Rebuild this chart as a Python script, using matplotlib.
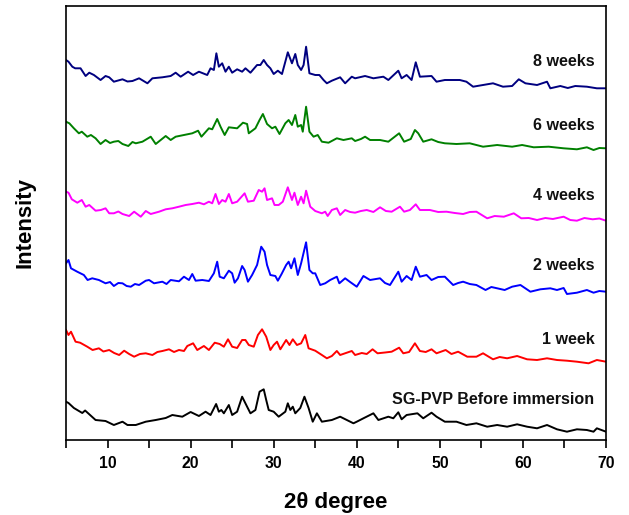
import numpy as np
import matplotlib
matplotlib.use("Agg")
import matplotlib.pyplot as plt
from matplotlib.ticker import MultipleLocator, FuncFormatter

plt.rcParams['font.family'] = ['Liberation Sans', 'DejaVu Sans']

# Series: (2theta, intensity incl. stacking offset, arbitrary units)
before = [(5.0, 38.3), (5.3, 37), (5.95, 32), (6.96, 27), (7.3, 29.5), (8.56, 20), (9.76, 19), (10.76, 15),
          (11.8, 18.3), (12.4, 15), (13.4, 15), (14.6, 18.3), (15.8, 20), (17.0, 22), (17.8, 25), (19.0, 23.3),
          (20.0, 28), (21.0, 24), (21.8, 28.3), (22.4, 25), (23.07, 36), (23.4, 28.3), (23.7, 30), (24.0, 26.7),
          (24.6, 35), (25.0, 25), (25.6, 28.3), (26.2, 43.3), (26.8, 33.3), (27.2, 26.7), (27.8, 30), (28.3, 48.3),
          (28.8, 50.7), (29.1, 40), (29.4, 30), (30.0, 28.3), (30.6, 23.3), (31.4, 28.3), (31.7, 36.7), (32.0, 30),
          (32.3, 33.3), (32.6, 26.7), (33.2, 32), (33.7, 43.3), (34.2, 32), (34.7, 18.3), (35.2, 26.7), (35.8, 18.3),
          (37.0, 20), (38.0, 23.3), (38.8, 20), (39.6, 16.7), (40.0, 18.3), (40.8, 21.7), (42.0, 26.7), (42.6, 20),
          (43.8, 23.3), (44.4, 21.7), (45.0, 27.7), (45.4, 20.7), (46.0, 25), (47.3, 26.7), (48.0, 21.7), (49.0, 27.3),
          (49.6, 23.3), (50.6, 18.3), (52.0, 18.3), (53.2, 15), (54.4, 16.7), (55.7, 13.3), (56.9, 15), (58.1, 13.3),
          (59.3, 15.7), (60.5, 13.3), (61.7, 11.7), (62.9, 15), (64.1, 10.7), (65.3, 8.3), (66.5, 10.7), (67.7, 10),
          (68.5, 8.3), (68.9, 11.7), (70.0, 8.3)]

week1 = [(5.0, 110), (5.3, 105), (5.6, 108.3), (6.15, 98.3), (6.7, 97.3), (7.56, 93.3), (8.2, 90), (8.96, 91.7),
         (9.5, 88.5), (10.2, 90), (10.8, 87), (11.4, 85), (12.0, 89.3), (12.6, 86), (13.2, 83.3), (13.9, 86),
         (14.6, 86.7), (15.4, 85), (16.0, 88), (16.6, 89), (17.4, 90.7), (18.0, 88), (18.6, 90), (19.2, 89),
         (19.6, 94), (20.3, 96.7), (20.8, 90), (21.6, 94), (22.2, 90), (22.9, 97.3), (23.5, 96), (24.0, 93.3),
         (24.5, 100.7), (25.0, 93.3), (25.6, 92), (26.2, 100), (26.6, 100), (27.0, 95), (27.6, 93.3), (28.1, 105),
         (28.6, 110.7), (29.1, 103.3), (29.6, 90), (30.0, 95), (30.4, 98.3), (30.8, 90.7), (31.5, 100), (31.9, 95),
         (32.3, 100.7), (32.8, 95), (33.3, 96.7), (33.8, 105), (34.2, 91.7), (35.0, 89.3), (35.8, 85), (36.4, 81.7),
         (37.0, 84), (37.6, 89), (38.0, 85), (38.8, 87.3), (39.4, 89), (39.8, 85), (40.6, 87), (41.2, 86),
         (41.9, 90.7), (42.5, 86.7), (43.4, 87.5), (44.2, 88.3), (45.1, 92.3), (45.6, 86.7), (46.3, 88), (47.0, 96.7),
         (47.6, 89), (48.3, 88), (49.0, 90.7), (49.6, 86.7), (50.7, 90), (51.4, 86), (52.2, 88.3), (53.3, 83.3),
         (54.4, 83.3), (55.2, 86.7), (56.4, 80.7), (57.2, 83), (58.1, 81.7), (59.3, 84), (60.5, 80.7), (61.7, 80),
         (62.9, 81.7), (64.1, 80), (65.3, 79.3), (66.5, 78.3), (67.9, 76.7), (68.9, 80), (70.0, 78.3)]

week2 = [(5.0, 176.7), (5.3, 180), (5.6, 171.7), (6.35, 168.3), (7.15, 165), (7.6, 160), (8.16, 161.7), (8.96, 160),
         (9.76, 156.7), (10.3, 158), (10.76, 154), (11.3, 157), (11.8, 156.7), (12.3, 154), (12.8, 153.3), (13.3, 156),
         (13.8, 155), (14.6, 159.3), (15.0, 160), (15.6, 156.7), (16.6, 158.3), (17.1, 156), (17.6, 160), (18.6, 158.7),
         (19.2, 163.3), (19.8, 160), (20.2, 166), (20.6, 159.3), (21.4, 160), (22.2, 159), (22.8, 166.7), (23.2, 178.3),
         (23.5, 163.3), (24.0, 161.7), (24.6, 169.3), (25.0, 166.7), (25.3, 157.3), (25.7, 161.7), (26.2, 174),
         (26.5, 170), (26.9, 158.3), (27.4, 165), (28.0, 175), (28.5, 193.3), (28.9, 188.3), (29.2, 175), (29.6, 165),
         (30.2, 164), (30.5, 159.3), (30.95, 166), (31.5, 175), (31.8, 178.3), (32.1, 171.7), (32.5, 181.7),
         (32.9, 165), (33.3, 176.7), (33.9, 197.7), (34.3, 170), (34.7, 166.7), (35.0, 166.7), (35.6, 155),
         (36.2, 156.7), (36.8, 160), (37.6, 163.3), (37.9, 156.7), (38.6, 161.7), (39.2, 158), (40.0, 153.3),
         (40.8, 164), (41.6, 160), (42.8, 161.7), (43.4, 157), (44.0, 155), (45.0, 168.3), (45.4, 158.3), (46.0, 164),
         (46.6, 160), (47.1, 173.3), (47.6, 163.3), (48.4, 165), (49.0, 160), (49.8, 163), (50.6, 163.3), (51.6, 155),
         (52.2, 157), (52.8, 158.3), (53.6, 156), (54.4, 155), (55.5, 150), (56.2, 153), (56.9, 151.7), (57.8, 150),
         (58.7, 153.3), (59.7, 155), (60.9, 148.3), (62.1, 150.7), (63.3, 151.7), (64.1, 150), (64.9, 152),
         (65.3, 146), (66.5, 147.3), (67.7, 150), (68.5, 147.3), (69.2, 149), (70.0, 148.3)]

week4 = [(5.0, 248.3), (5.3, 247.3), (5.7, 240.7), (6.36, 237.3), (6.9, 240), (7.36, 233.3), (7.8, 235), (8.56, 229.3),
         (9.2, 230), (9.76, 231.7), (10.2, 226.7), (10.76, 226.7), (11.3, 228.5), (11.8, 226), (12.6, 224),
         (13.2, 228.3), (14.0, 223.3), (14.6, 229), (15.2, 226), (16.2, 228.3), (17.0, 230.7), (17.8, 231.7),
         (18.6, 233.3), (19.4, 235), (20.2, 236), (21.0, 237.3), (21.6, 235.7), (22.2, 238.3), (22.6, 236.7),
         (23.0, 246), (23.4, 236), (23.8, 240), (24.2, 238.3), (24.6, 246), (25.0, 236.7), (25.6, 238.3),
         (26.5, 246.7), (26.9, 238.3), (27.6, 239.3), (28.2, 250), (28.6, 248.3), (28.9, 251.7), (29.2, 240),
         (29.8, 241.7), (30.1, 235), (30.6, 235), (31.1, 238.3), (31.7, 252.7), (32.2, 240), (32.5, 247.3),
         (32.9, 235), (33.3, 243.3), (33.6, 236.7), (33.9, 249.3), (34.4, 233.3), (35.0, 229), (35.8, 226.7),
         (36.2, 228.3), (36.5, 224), (37.0, 230), (37.6, 231.7), (38.0, 225), (38.6, 230), (39.2, 228), (39.8, 227.3),
         (40.5, 229), (41.2, 230), (42.0, 228), (42.8, 232.7), (43.5, 229), (44.2, 228.3), (45.2, 233.3),
         (45.7, 228.3), (46.4, 230), (47.1, 235.7), (47.6, 230), (48.8, 230), (49.8, 228), (50.8, 228.3), (51.8, 227),
         (52.8, 226), (53.6, 228), (54.4, 228.3), (55.7, 221.7), (56.6, 224), (57.7, 223.3), (58.9, 226.7),
         (59.8, 221.7), (60.7, 222), (61.7, 220), (62.7, 222), (63.6, 221), (64.9, 223.3), (65.7, 220), (66.5, 219.3),
         (67.4, 222), (68.4, 220.7), (69.2, 221.5), (70.0, 219.3)]

week6 = [(5.0, 318.3), (5.4, 316.7), (5.95, 311.7), (6.55, 306.7), (6.9, 308.3), (7.56, 303.3), (8.0, 305),
         (8.56, 301.7), (9.16, 296), (9.76, 300), (10.3, 297), (10.76, 298.3), (11.3, 299), (11.8, 296), (12.5, 294),
         (13.0, 298), (13.4, 296.7), (14.2, 298.3), (15.2, 303.3), (15.8, 296), (16.4, 300), (17.0, 304), (17.6, 300),
         (18.2, 303.3), (19.2, 305), (20.2, 306.7), (20.9, 309.3), (21.3, 303.3), (22.2, 311.7), (22.6, 310.7),
         (23.2, 321), (23.6, 313.3), (24.1, 305), (24.6, 312.7), (25.6, 311.7), (26.3, 317.3), (26.8, 316),
         (27.0, 306.7), (27.8, 311.7), (28.3, 320), (28.7, 326), (29.2, 316), (29.8, 311.7), (30.2, 313.3),
         (30.7, 306), (31.4, 316.7), (31.8, 320), (32.2, 315), (32.6, 325), (32.9, 313.3), (33.3, 315), (33.5, 308.3),
         (33.9, 333.3), (34.3, 308.3), (34.8, 303.3), (35.3, 305), (35.8, 298.3), (36.6, 297.3), (37.6, 301.7),
         (38.4, 300), (39.4, 301.7), (39.8, 299), (40.5, 301), (41.0, 303.3), (41.6, 300), (42.8, 300), (43.8, 298.3),
         (45.1, 306.7), (45.7, 298.3), (46.5, 301), (47.0, 310), (47.4, 306.7), (48.0, 298.3), (49.0, 300.7),
         (49.8, 298), (50.6, 296.7), (52.0, 296), (53.6, 296.7), (55.2, 293.3), (56.9, 295), (58.7, 293.3),
         (59.9, 295), (61.3, 292.7), (63.1, 293.3), (64.9, 291.7), (66.5, 290.7), (67.7, 292.7), (68.5, 290),
         (69.2, 292), (70.0, 291.7)]

week8 = [(5.0, 380), (5.3, 378.3), (5.76, 373.3), (6.1, 371.7), (6.75, 371.7), (7.36, 364), (7.8, 367.3), (8.36, 365),
         (9.16, 360), (9.76, 364), (10.2, 362.7), (10.76, 358.3), (11.8, 360.7), (12.4, 358.5), (13.0, 359),
         (13.8, 361.7), (14.8, 356.7), (15.4, 361.7), (16.6, 362.7), (17.6, 364), (18.2, 367.3), (18.8, 363.3),
         (19.7, 368.3), (20.3, 365), (21.0, 368.3), (22.0, 365), (22.4, 371.7), (22.8, 370), (23.1, 386.7),
         (23.4, 373.3), (23.8, 376.7), (24.2, 368.3), (24.6, 373.3), (25.0, 367.3), (25.6, 370.7), (26.2, 368.3),
         (26.6, 371.7), (27.2, 367.3), (28.0, 375), (28.4, 375), (28.8, 380), (29.2, 375), (29.6, 371.7), (30.0, 366),
         (30.5, 369.3), (31.0, 366), (31.4, 378.3), (31.7, 387.7), (32.2, 376.7), (32.6, 386), (32.9, 375),
         (33.3, 370), (33.6, 375), (33.9, 393.3), (34.3, 366.7), (35.0, 365), (35.5, 365), (36.0, 360), (36.4, 356.7),
         (37.0, 359.3), (38.0, 362.7), (38.6, 356.7), (39.4, 363.3), (39.8, 361.7), (41.0, 364), (42.0, 361.7),
         (43.2, 363.3), (43.8, 360), (45.0, 369.3), (45.4, 361.7), (46.0, 365), (46.6, 360), (47.1, 377.7),
         (47.6, 363.3), (49.0, 364), (49.6, 358.3), (50.6, 360), (52.4, 360), (53.2, 358.3), (54.0, 353.3),
         (55.2, 355), (56.4, 356.7), (57.6, 353.3), (58.7, 354), (59.5, 360.7), (60.3, 356.7), (61.7, 355),
         (62.9, 358.3), (63.3, 351.7), (64.5, 354), (65.4, 352), (66.3, 354), (67.7, 353.3), (68.9, 351.7),
         (70.0, 351.7)]

series_labels = ["SG-PVP Before immersion", "1 week", "2 weeks", "4 weeks", "6 weeks", "8 weeks"]
label_y = [41, 100, 175, 245, 315, 379]
colors = ["#000000", "#ff0000", "#0000ff", "#ff00ff", "#008000", "#000080"]
series = [before, week1, week2, week4, week6, week8]

fig = plt.figure(figsize=(6.29, 5.15), dpi=100)
ax = fig.add_axes([66 / 629, 1 - 440 / 515, 540 / 629, 434 / 515])

for data, c, lab, ly in zip(series, colors, series_labels, label_y):
    arr = np.array(data)
    ax.plot(arr[:, 0], arr[:, 1], color=c, lw=1.4, solid_joinstyle='round')
    ax.text(68.6, ly, lab, ha='right', va='center', fontsize=11.6, fontweight='bold', color='#111111')

ax.set_xlim(5, 70)
ax.set_ylim(0, 434)
ax.xaxis.set_major_locator(MultipleLocator(5))
ax.xaxis.set_major_formatter(FuncFormatter(lambda v, p: f"{int(v)}" if int(round(v)) % 10 == 0 else ""))
ax.tick_params(axis='x', direction='out', length=5.5, width=1.2, labelsize=11.3, pad=6)
for t in ax.get_xticklabels():
    t.set_fontweight('bold')
ax.set_yticks([])
for s in ax.spines.values():
    s.set_linewidth(1.2)

ax.set_xlabel("2θ degree", fontsize=16, fontweight='bold', labelpad=15)
ax.set_ylabel("Intensity", fontsize=16, fontweight='bold', labelpad=22)

fig.savefig("out.png", dpi=100)
